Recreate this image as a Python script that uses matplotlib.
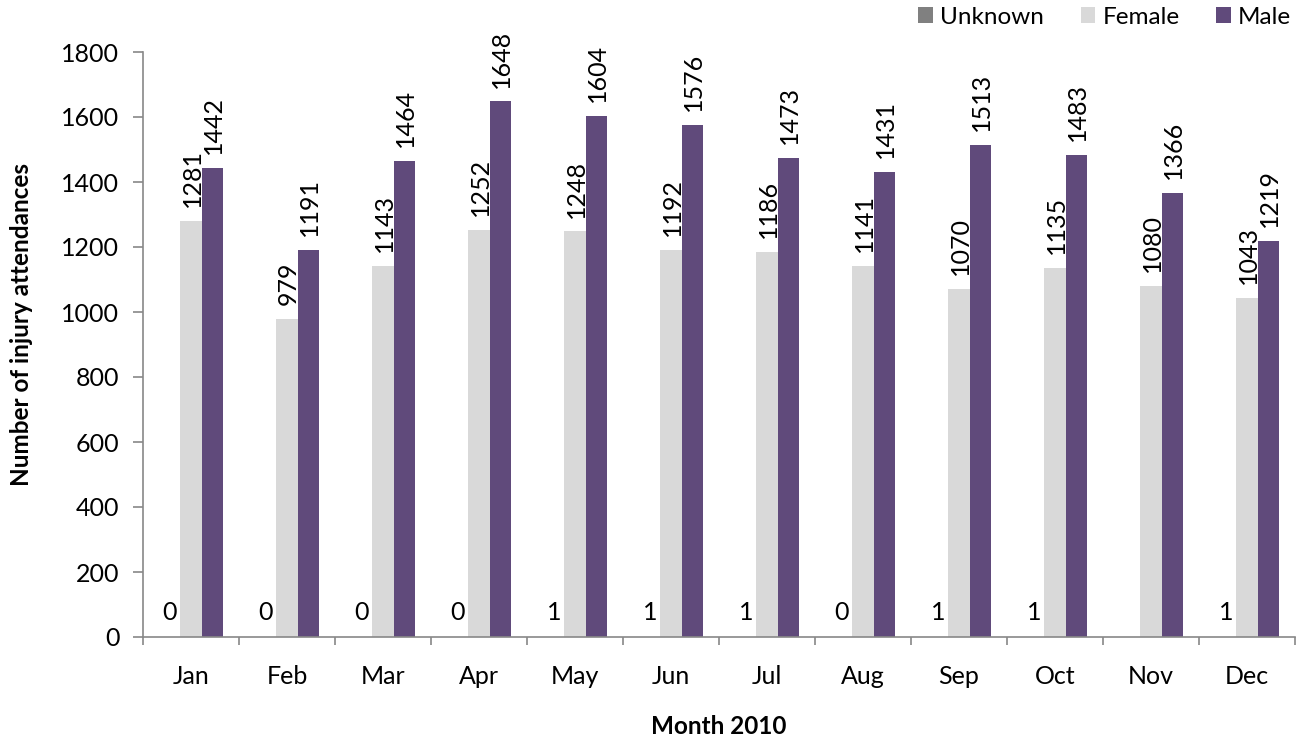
import matplotlib
matplotlib.use("Agg")
import matplotlib.pyplot as plt
import numpy as np

plt.rcParams['font.family'] = ['Lato', 'DejaVu Sans']

months = ["Jan", "Feb", "Mar", "Apr", "May", "Jun", "Jul", "Aug", "Sep", "Oct", "Nov", "Dec"]
unknown = [0, 0, 0, 0, 1, 1, 1, 0, 1, 1, None, 1]
female = [1281, 979, 1143, 1252, 1248, 1192, 1186, 1141, 1070, 1135, 1080, 1043]
male = [1442, 1191, 1464, 1648, 1604, 1576, 1473, 1431, 1513, 1483, 1366, 1219]
yticks = [0, 200, 400, 600, 800, 1000, 1200, 1400, 1600, 1800]

c_unk = "#808080"
c_fem = "#D9D9D9"
c_male = "#604A7B"

W, H = 1303, 742
fig = plt.figure(figsize=(W / 100, H / 100), dpi=100)
ax = fig.add_axes([143 / W, 105 / H, 1152 / W, 585 / H])

x = np.arange(len(months))
w = 0.22
unk_vals = [np.nan if v is None else v for v in unknown]
b_unk = ax.bar(x - w, unk_vals, w, color=c_unk, label="Unknown")
b_fem = ax.bar(x, female, w, color=c_fem, label="Female")
b_male = ax.bar(x + w, male, w, color=c_male, label="Male")

fs = 18
for xi, v in zip(x, unknown):
    if v is None:
        continue
    ax.annotate(str(v), (xi - w, v), xytext=(0, 9), textcoords="offset points",
                ha="center", va="bottom", fontsize=fs)
for xi, v in zip(x, female):
    ax.annotate(str(v), (xi, v), xytext=(1, 10), textcoords="offset points",
                ha="center", va="bottom", rotation=90, fontsize=fs)
for xi, v in zip(x, male):
    ax.annotate(str(v), (xi + w, v), xytext=(1, 10), textcoords="offset points",
                ha="center", va="bottom", rotation=90, fontsize=fs)

ax.set_xlim(-0.5, len(months) - 0.5)
ax.set_ylim(0, 1800)
ax.set_yticks(yticks)
ax.set_yticklabels([str(t) for t in yticks], fontsize=18)

ax.set_xticks(np.arange(len(months) + 1) - 0.5)
ax.set_xticklabels([""] * (len(months) + 1))
ax.set_xticks(x, minor=True)
ax.set_xticklabels(months, minor=True, fontsize=18)
ax.tick_params(axis="x", which="minor", length=0, pad=20)
ax.tick_params(axis="x", which="major", length=6, color="#888888", width=1.2)
ax.tick_params(axis="y", length=7, color="#888888", width=1.2, pad=10)

for s in ["top", "right"]:
    ax.spines[s].set_visible(False)
for s in ["left", "bottom"]:
    ax.spines[s].set_color("#888888")
    ax.spines[s].set_linewidth(1.2)

fig.text(22 / W, 1 - 324 / H, "Number of injury attendances", rotation=90,
         ha="center", va="center", fontsize=17.5, fontweight="bold")
fig.text(719 / W, 1 - 726 / H, "Month 2010", ha="center", va="center",
         fontsize=17.5, fontweight="bold")

leg = fig.legend(handles=[b_unk, b_fem, b_male], loc="center right",
                 bbox_to_anchor=(1291 / W, 1 - 17 / H), ncol=3, frameon=False,
                 fontsize=17.5, handlelength=0.6, handleheight=0.6,
                 handletextpad=0.3, columnspacing=1.5, borderpad=0, borderaxespad=0)

fig.savefig("out.png", dpi=100)
